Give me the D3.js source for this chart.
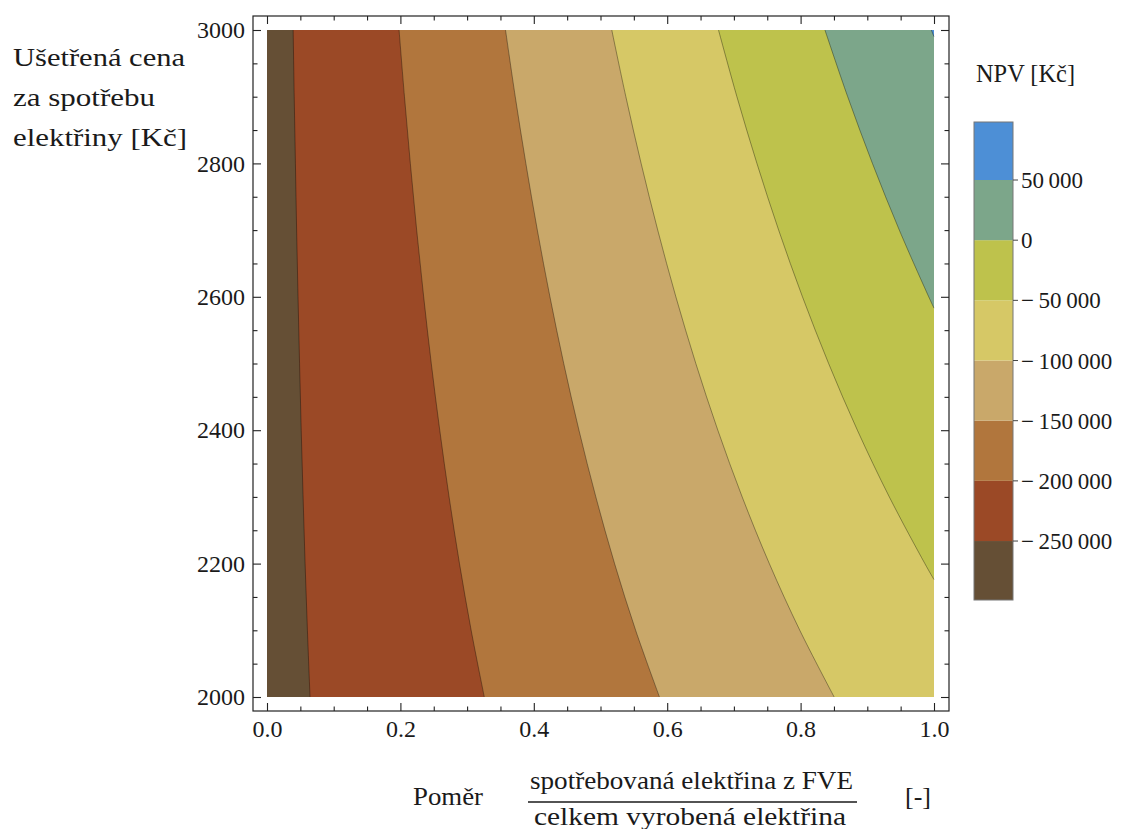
<!DOCTYPE html>
<html><head><meta charset="utf-8">
<script src="https://cdn.jsdelivr.net/npm/d3@7/dist/d3.min.js"></script>
<style>
body{margin:0;background:#fff}
svg text{font-family:"Liberation Serif",serif !important;fill:#1a1a1a}
</style></head>
<body><svg id="chart" width="1121" height="829" font-family="Liberation Serif"></svg>
<script>
// ---- data ----
const levels = [-250000, -200000, -150000, -100000, -50000, 0, 50000];
const bandColors = ["#654f35", "#9b4926", "#b1763d", "#c9a86a", "#d6c866", "#bec24c", "#7ca68a", "#4d8fd6"];
const xTicks = [0, 0.2, 0.4, 0.6, 0.8, 1.0];
const yTicks = [2000, 2200, 2400, 2600, 2800, 3000];
const legendLabels = ["\u2212\u2009250\u2009000", "\u2212\u2009200\u2009000", "\u2212\u2009150\u2009000", "\u2212\u2009100\u2009000", "\u2212\u200950\u2009000", "0", "50\u2009000"];
// contour lines: [ratio, price]
const cM250 = [[0.0645,2000],[0.0606,2100],[0.0571,2200],[0.0541,2300],[0.0513,2400],[0.0488,2500],[0.0465,2600],[0.0444,2700],[0.0426,2800],[0.0408,2900],[0.0392,3000]];
const cM200 = [[0.3258,2000],[0.3061,2100],[0.2886,2200],[0.2730,2300],[0.2590,2400],[0.2463,2500],[0.2349,2600],[0.2244,2700],[0.2149,2800],[0.2061,2900],[0.1980,3000]];
const cM150 = [[0.5884,2000],[0.5527,2100],[0.5211,2200],[0.4930,2300],[0.4677,2400],[0.4449,2500],[0.4242,2600],[0.4053,2700],[0.3881,2800],[0.3722,2900],[0.3576,3000]];
const cM100 = [[0.8503,2000],[0.7988,2100],[0.7531,2200],[0.7124,2300],[0.6759,2400],[0.6429,2500],[0.6130,2600],[0.5858,2700],[0.5609,2800],[0.5380,2900],[0.5169,3000]];
const cM50 = [[1.0,2176],[0.9863,2200],[0.9330,2300],[0.8851,2400],[0.8420,2500],[0.8028,2600],[0.7671,2700],[0.7345,2800],[0.7045,2900],[0.6769,3000]];
const c0 = [[1.0,2583],[0.9921,2600],[0.9480,2700],[0.9077,2800],[0.8706,2900],[0.8365,3000]];
const cP50 = [[1.0,2990],[0.996,3000]];
const contours = [cM250, cM200, cM150, cM100, cM50, c0, cP50];

const FONT = "Liberation Serif";
const svg = d3.select("#chart");
const frame = {l:253, r:949, t:16, b:711};
const x = d3.scaleLinear().domain([0,1]).range([267,934]);
const y = d3.scaleLinear().domain([2000,3000]).range([697,30]);

// base band
svg.append("rect").attr("x", x(0)).attr("y", y(3000))
  .attr("width", x(1)-x(0)).attr("height", y(2000)-y(3000)).attr("fill", bandColors[0]);

const line = d3.line().x(d=>x(d[0])).y(d=>y(d[1])).curve(d3.curveCatmullRom.alpha(0.5));
const plot = svg.append("g");
contours.forEach((pts, i) => {
  const p = line(pts) + `L${x(1)},${y(3000)}L${x(1)},${y(pts[0][1])}Z`;
  plot.append("path").attr("d", p).attr("fill", bandColors[i+1]);
});
contours.forEach((pts) => {
  plot.append("path").attr("d", line(pts)).attr("fill","none")
    .attr("stroke","#000").attr("stroke-opacity",0.35).attr("stroke-width",1);
});

// frame
svg.append("rect").attr("x",frame.l).attr("y",frame.t)
  .attr("width",frame.r-frame.l).attr("height",frame.b-frame.t)
  .attr("fill","none").attr("stroke","#222").attr("stroke-width",1.2);

const minorX = d3.range(0, 1.0001, 0.05).filter(v => Math.abs(v*5 - Math.round(v*5)) > 1e-6);
const minorY = d3.range(2000, 3001, 50).filter(v => v % 200 !== 0);

function styleAxis(g){
  g.attr("font-family", FONT).attr("font-size", 24);
  g.select(".domain").remove();
  g.selectAll("line").attr("stroke","#222").attr("stroke-width",1.1);
  g.selectAll("text").attr("font-family", FONT).attr("font-size",24).attr("fill","#1a1a1a");
}

svg.append("g").attr("transform",`translate(0,${frame.b})`)
  .call(d3.axisBottom(x).tickValues(xTicks).tickSize(-8).tickPadding(9).tickFormat(d3.format(".1f"))).call(styleAxis);
svg.append("g").attr("transform",`translate(0,${frame.b})`)
  .call(d3.axisBottom(x).tickValues(minorX).tickSize(-4.5).tickFormat("")).call(styleAxis);
svg.append("g").attr("transform",`translate(0,${frame.t})`)
  .call(d3.axisTop(x).tickValues(xTicks).tickSize(-8).tickFormat("")).call(styleAxis);
svg.append("g").attr("transform",`translate(0,${frame.t})`)
  .call(d3.axisTop(x).tickValues(minorX).tickSize(-4.5).tickFormat("")).call(styleAxis);
svg.append("g").attr("transform",`translate(${frame.l},0)`)
  .call(d3.axisLeft(y).tickValues(yTicks).tickSize(-8).tickPadding(8).tickFormat(d3.format("d"))).call(styleAxis);
svg.append("g").attr("transform",`translate(${frame.l},0)`)
  .call(d3.axisLeft(y).tickValues(minorY).tickSize(-4.5).tickFormat("")).call(styleAxis);
svg.append("g").attr("transform",`translate(${frame.r},0)`)
  .call(d3.axisRight(y).tickValues(yTicks).tickSize(-8).tickFormat("")).call(styleAxis);
svg.append("g").attr("transform",`translate(${frame.r},0)`)
  .call(d3.axisRight(y).tickValues(minorY).tickSize(-4.5).tickFormat("")).call(styleAxis);

function txt(xp, yp, size, s, len){
  const t = svg.append("text").attr("x",xp).attr("y",yp).attr("font-family",FONT).attr("font-size",size).attr("fill","#1a1a1a").text(s);
  if (len) t.attr("textLength",len).attr("lengthAdjust","spacingAndGlyphs");
  return t;
}

// y title
const yTitle = [["Ušetřená cena",172],["za spotřebu",142],["elektřiny [Kč]",174]];
yTitle.forEach((t,i)=> txt(13, 66+i*40, 26, t[0], t[1]));

// x title
txt(413, 805, 26, "Poměr", 70);
txt(530, 789, 26, "spotřebovaná elektřina z FVE", 323);
svg.append("line").attr("x1",528).attr("x2",857).attr("y1",802).attr("y2",802).attr("stroke","#1a1a1a").attr("stroke-width",1.3);
txt(534, 825, 26, "celkem vyrobená elektřina", 312);
txt(905, 805, 26, "[-]");

// legend
const lg = {x:974, w:39};
const yc = d3.scaleLinear().domain([-299000, 98200]).range([600,122]);
const edges = [yc.domain()[0], ...levels, yc.domain()[1]];
const leg = svg.append("g");
bandColors.forEach((c,i)=>{
  leg.append("rect").attr("x",lg.x).attr("width",lg.w)
    .attr("y",yc(edges[i+1])).attr("height",yc(edges[i])-yc(edges[i+1])).attr("fill",c);
});
leg.append("rect").attr("x",lg.x).attr("width",lg.w).attr("y",yc(edges[edges.length-1]))
  .attr("height",yc(edges[0])-yc(edges[edges.length-1])).attr("fill","none").attr("stroke","#777").attr("stroke-width",1);
levels.forEach((v,i)=>{
  leg.append("line").attr("x1",lg.x+lg.w).attr("x2",lg.x+lg.w+5).attr("y1",yc(v)).attr("y2",yc(v)).attr("stroke","#444");
  txt(lg.x+lg.w+8, yc(v), 23, legendLabels[i]).attr("dy","0.35em");
});
txt(976, 82, 25, "NPV [Kč]", 99);
</script></body></html>
